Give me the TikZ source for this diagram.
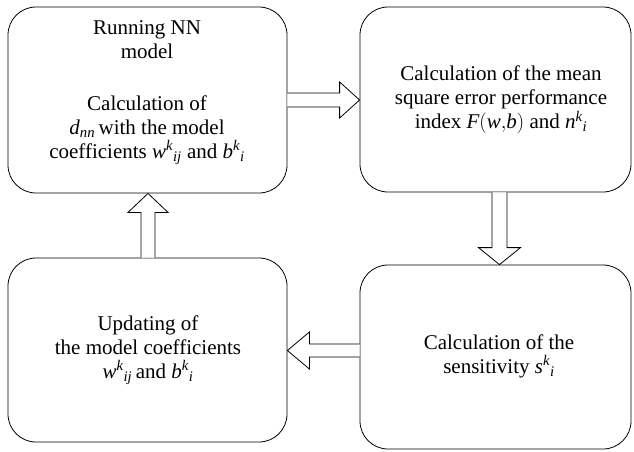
\documentclass[tikz,border=0pt]{standalone}
\usepackage{fontspec}
\setmainfont{Liberation Serif}
\usetikzlibrary{calc}
\newcommand\mi[1]{\mathit{#1}}
\begin{document}
\begin{tikzpicture}[x=1pt,y=-1pt,
  box/.style={draw, line width=0.8pt, rounded corners=28pt, minimum width=#1, inner sep=0pt},
  box/.default=279pt,
  txt/.style={align=center, font=\fontsize{21}{24}\selectfont, inner sep=0pt},
  blockarrow/.style={draw, line width=0.8pt, fill=white, line join=miter}]
\useasboundingbox (0,0) rectangle (634,451);
% boxes
\node[box=279pt, minimum height=186pt] (b1) at (147.5,100) {};
\node[box=271pt, minimum height=185pt] (b2) at (495.5,99.5) {};
\node[box=271pt, minimum height=184pt] (b3) at (495.5,357) {};
\node[box=279pt, minimum height=184pt] (b4) at (147.5,350) {};
% texts
\node[txt] (t1a) at (147,40) {Running NN\\model};
\node[txt] (t1b) at (147,130) {Calculation of\\$\mi{d}_{\mi{nn}}$\,with the model\\coefficients $\mi{w}^{\mi{k}}{}_{\mi{ij}}$ and $\mi{b}^{\mi{k}}{}_{\mi{i}}$};
\node[txt] (t2) at (501,100) {Calculation of the mean\\square error performance\\index $\mi{F}(\mi{w}{,}\mi{b})$ and $\mi{n}^{\mi{k}}{}_{\mi{i}}$};
\node[txt] (t3) at (499,356) {Calculation of the\\sensitivity $\mi{s}^{\mi{k}}{}_{\mi{i}}$};
\node[txt] (t4) at (148,350) {Updating of\\the model coefficients\\$\mi{w}^{\mi{k}}{}_{\mi{ij}}$\,and $\mi{b}^{\mi{k}}{}_{\mi{i}}$};
% block arrows
% b1 -> b2 (right)
\coordinate (r0) at (b1.east |- 0,100);
\coordinate (r1) at (b2.west |- 0,100);
\draw[blockarrow] ($(r0)+(0,-7)$) -- ($(r1)+(-20,-7)$) -- ($(r1)+(-20,-18)$) -- (r1)
  -- ($(r1)+(-20,18)$) -- ($(r1)+(-20,7)$) -- ($(r0)+(0,7)$);
% b2 -> b3 (down)
\coordinate (d0) at (b2.south -| 499.5,0);
\coordinate (d1) at (b3.north -| 499.5,0);
\draw[blockarrow] ($(d0)+(-7.5,0)$) -- ($(d1)+(-7.5,-17)$) -- ($(d1)+(-21,-17)$) -- (d1)
  -- ($(d1)+(21,-17)$) -- ($(d1)+(7.5,-17)$) -- ($(d0)+(7.5,0)$);
% b3 -> b4 (left)
\coordinate (l0) at (b3.west |- 0,350.5);
\coordinate (l1) at (b4.east |- 0,350.5);
\draw[blockarrow] ($(l0)+(0,-6.5)$) -- ($(l1)+(22,-6.5)$) -- ($(l1)+(22,-18.5)$) -- (l1)
  -- ($(l1)+(22,18.5)$) -- ($(l1)+(22,6.5)$) -- ($(l0)+(0,6.5)$);
% b4 -> b1 (up)
\coordinate (u0) at (b4.north -| 148,0);
\coordinate (u1) at (b1.south -| 148,0);
\draw[blockarrow] ($(u0)+(-7,0)$) -- ($(u1)+(-7,19)$) -- ($(u1)+(-20,19)$) -- (u1)
  -- ($(u1)+(20,19)$) -- ($(u1)+(7,19)$) -- ($(u0)+(7,0)$);
\end{tikzpicture}
\end{document}
